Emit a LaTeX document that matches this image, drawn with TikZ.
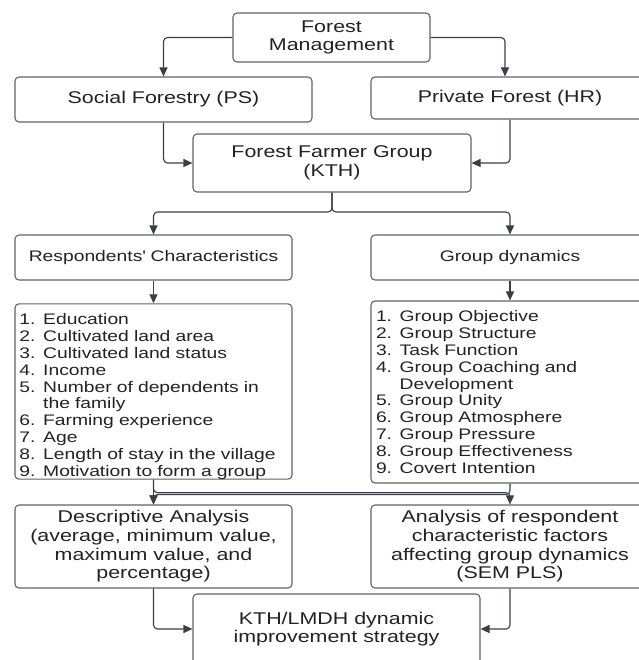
\documentclass[tikz,border=0pt]{standalone}
\usepackage{fontspec}
\setmainfont{Liberation Sans}[FakeStretch=1.26]
\usepackage{tikz}
\usetikzlibrary{arrows.meta}
\definecolor{boxgray}{HTML}{5F6368}
\definecolor{arrowgray}{HTML}{3A3F47}
\definecolor{txtblack}{HTML}{222222}
\tikzset{
box/.style={draw=boxgray, line width=1.1pt, rounded corners=4pt, align=center, inner sep=0pt, text=txtblack},
big/.style={font=\fontsize{17}{18.7}\selectfont},
small/.style={font=\fontsize{15.3}{16.8}\selectfont},
listbox/.style={box, small, align=left, text width=268pt, inner xsep=4.5pt, minimum width=277pt},
flow/.style={draw=arrowgray, line width=1.1pt, rounded corners=4pt, -{Triangle[length=9pt,width=8pt]}}
}
\begin{document}
\begin{tikzpicture}[x=1pt,y=-1pt]
\useasboundingbox (0,0) rectangle (638,660);
\node[box,big,minimum width=197pt,minimum height=49pt] (fm) at (331.5,37.5) {Forest\\Management};
\node[box,big,minimum width=297pt,minimum height=45pt] (sf) at (163.5,99.5) {Social Forestry (PS)};
\node[box,big,minimum width=278pt,minimum height=42pt] (pf) at (510,98) {Private Forest (HR)};
\node[box,big,minimum width=278pt,minimum height=58pt] (kth) at (332,163) {Forest Farmer Group\\(KTH)};
\node[box,small,minimum width=277pt,minimum height=45pt] (rc) at (153.5,257.5) {Respondents\textquotesingle{} Characteristics};
\node[box,small,minimum width=278pt,minimum height=45pt] (gd) at (510,257.5) {Group dynamics};
\node[listbox,minimum height=175pt] (rch) at (153.5,391.5) {\rule{0pt}{21pt}1. Education\\
2. Cultivated land area\\
3. Cultivated land status\\
4. Income\\
5. Number of dependents in\\
\phantom{5. }the family\\
6. Farming experience\\
7. Age\\
8. Length of stay in the village\\
9. Motivation to form a group};
\node[listbox,minimum width=278pt,inner xsep=5pt,minimum height=182pt] (gdy) at (510,392) {1. Group Objective\\
2. Group Structure\\
3. Task Function\\
4. Group Coaching and\\
\phantom{4. }Development\\
5. Group Unity\\
6. Group Atmosphere\\
7. Group Pressure\\
8. Group Effectiveness\\
9. Covert Intention};
\node[box,big,minimum width=277pt,minimum height=83pt] (desc) at (153.5,546.5) {Descriptive Analysis\\(average, minimum value,\\maximum value, and\\percentage)};
\node[box,big,minimum width=278pt,minimum height=83pt] (sem) at (510,546.5) {Analysis of respondent\\characteristic factors\\affecting group dynamics\\(SEM PLS)};
\node[box,big,minimum width=287pt,minimum height=70pt] (strat) at (336.5,629) {KTH/LMDH dynamic\\improvement strategy};

\draw[flow] (fm.west) -| (sf.north);
\draw[flow] (fm.east) -| ([xshift=-5pt]pf.north);
\draw[flow] (sf.south) |- (kth.west);
\draw[flow] (pf.south) |- (kth.east);
\coordinate (split) at (332,212);
\draw[flow] (kth.south) -- (split) -| (rc.north);
\draw[flow] (kth.south) -- (split) -| (gd.north);
\draw[flow] (rc.south) -- (rch.north);
\draw[flow] (gd.south) -- (gdy.north);
\draw[flow] (rch.south) -- (desc.north);
\draw[flow] (rch.south) -- ++(0,13) -| (sem.north);
\draw[flow] (gdy.south) -- ++(0,11) -| (desc.north);
\draw[flow] (desc.south) |- (strat.west);
\draw[flow] (sem.south) |- (strat.east);
\end{tikzpicture}
\end{document}
